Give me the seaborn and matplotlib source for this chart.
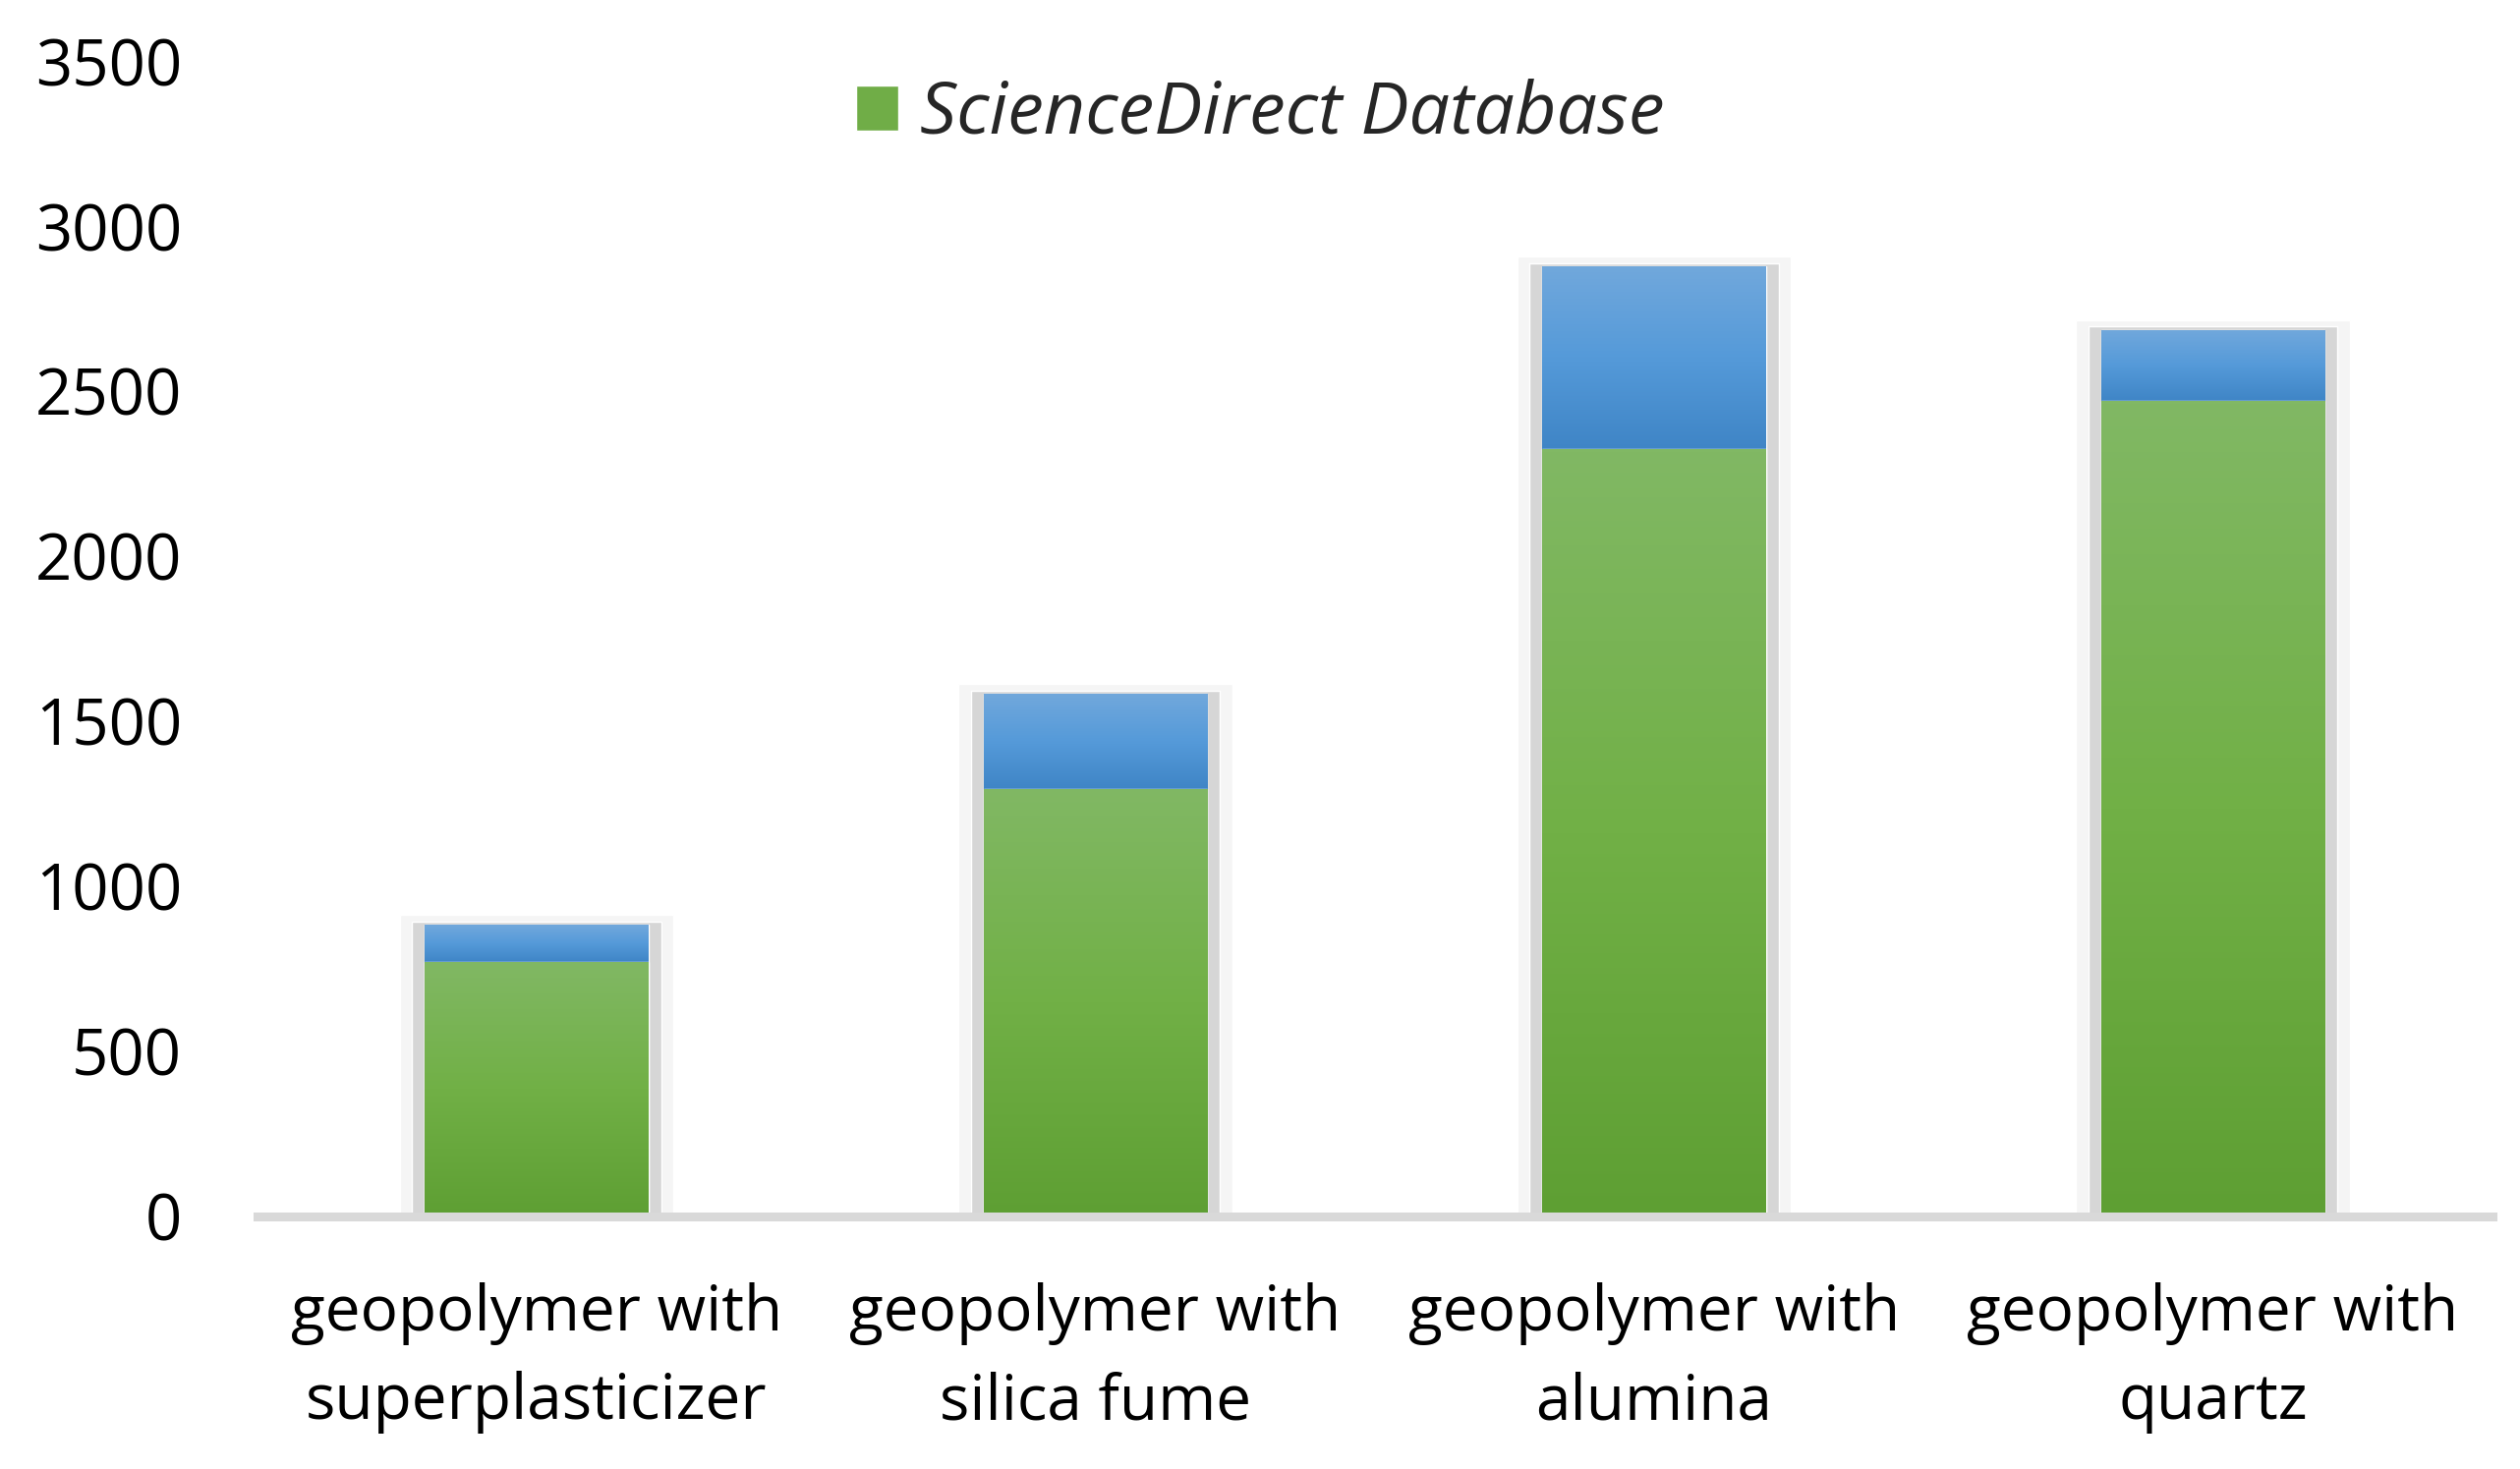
import matplotlib.pyplot as plt
import matplotlib.colors as mcolors
import seaborn as sns
import numpy as np
import pandas as pd

# data
categories = ["geopolymer with\nsuperplasticizer", "geopolymer with\nsilica fume",
              "geopolymer with\nalumina", "geopolymer with\nquartz"]
sciencedirect = [771, 1295, 2324, 2470]
totals = [884, 1583, 2878, 2685]
legend_label = "ScienceDirect Database"

df = pd.DataFrame({"category": categories, "green": sciencedirect, "total": totals})

sns.set_style("white")
plt.rcParams["font.family"] = ["Open Sans", "DejaVu Sans"]

fig = plt.figure(figsize=(25.64, 14.95), dpi=100)
ax = fig.add_axes([0.102, 0.172, 0.887, 0.7865])

# soft shadow behind bars
sns.barplot(data=df.assign(s=df["total"] + 30), x="category", y="s", color="#f5f5f5",
            width=0.49, ax=ax, saturation=1, zorder=1)
sns.barplot(data=df.assign(s=df["total"] + 10), x="category", y="s", color="#d6d6d6",
            width=0.446, ax=ax, saturation=1, zorder=1)
n_shadow = len(ax.patches)

sns.barplot(data=df, x="category", y="total", color="#5a9bd8", width=0.40,
            ax=ax, saturation=1, zorder=2)
sns.barplot(data=df, x="category", y="green", color="#70ad47", width=0.40,
            ax=ax, saturation=1, zorder=3, label=legend_label)

bar_patches = ax.patches[n_shadow:]
green_cmap = mcolors.LinearSegmentedColormap.from_list("g", ["#5e9f33", "#71b046", "#81b864"])
blue_cmap = mcolors.LinearSegmentedColormap.from_list("b", ["#3f85c6", "#559ad9", "#71a8dc"])
grad = np.linspace(0, 1, 256).reshape(-1, 1)
for i, p in enumerate(bar_patches):
    cmap = blue_cmap if i < len(categories) else green_cmap
    x0, y0, w, h = p.get_x(), p.get_y(), p.get_width(), p.get_height()
    if i < len(categories):
        # blue part only shows above the green, gradient over that part
        y0 = sciencedirect[i]
        h = totals[i] - sciencedirect[i]
    im = ax.imshow(grad, cmap=cmap, origin="lower", aspect="auto",
                   extent=(x0, x0 + w, y0, y0 + h), zorder=p.get_zorder() + 0.1)
    im.set_clip_path(p)

ax.set_xlim(-0.5, 3.5)
ax.set_ylim(0, 3500)
ax.set_yticks(range(0, 3501, 500))
ax.set_xlabel("")
ax.set_ylabel("")
if ax.get_legend() is not None:
    ax.get_legend().remove()
sns.despine(ax=ax, left=True, right=True, top=True)
ax.spines["bottom"].set_color("#d9d9d9")
ax.spines["bottom"].set_linewidth(6.5)
ax.spines["bottom"].set_zorder(5)
ax.tick_params(axis="y", length=0, pad=55, labelsize=47, colors="black")
ax.tick_params(axis="x", length=0, pad=48, labelsize=46, colors="black")
for t in ax.get_xticklabels():
    t.set_linespacing(1.55)

handles, labels = ax.get_legend_handles_labels()
green_handle = [h for h, l in zip(handles, labels) if l == legend_label]
fig.legend(green_handle[:1], [legend_label], loc="center", bbox_to_anchor=(0.5, 0.922),
           frameon=False, prop={"style": "italic", "size": 53},
           handlelength=0.58, handleheight=0.58, handletextpad=0.3)

fig.savefig("out.png", dpi=100, facecolor="white")
